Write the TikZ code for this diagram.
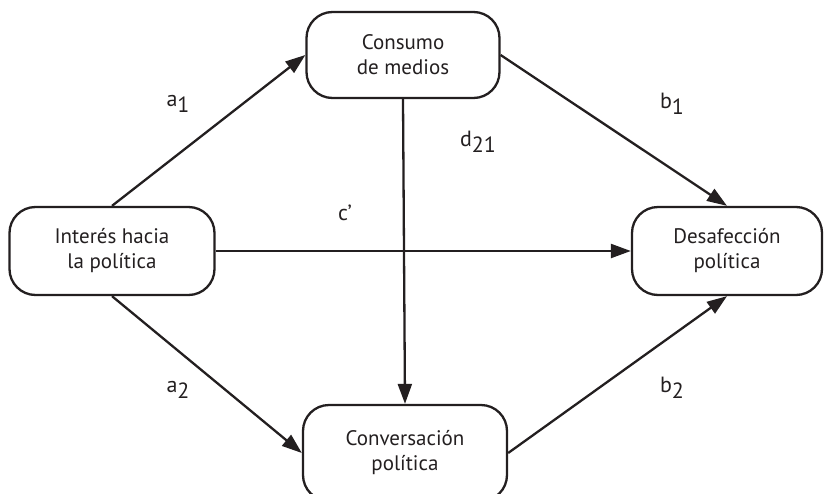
\documentclass[tikz,border=0pt]{standalone}
\usepackage{fontspec}
\setmainfont{PT Sans}
\usetikzlibrary{arrows.meta, positioning}
\definecolor{lineGray}{HTML}{231F20}
\newcommand{\idx}[1]{\raisebox{-0.55ex}{#1}}

\begin{document}
\begin{tikzpicture}[x=1pt, y=-1pt,
  box/.style={draw=lineGray, line width=2.3pt, rounded corners=26pt, align=center,
    inner sep=0pt, font=\fontsize{21}{25}\selectfont, text=lineGray},
  path/.style={draw=lineGray, line width=2.3pt, -{Triangle[length=20pt, width=14pt]}},
  lbl/.style={font=\fontsize{22}{24}\selectfont, text=lineGray}]
\useasboundingbox (0,0) rectangle (825,493);

% Variables
\node[box, minimum width=193pt, minimum height=86pt] (medios) at (403,55) {Consumo\\de medios};
\node[box, minimum width=205pt, minimum height=88pt] (interes) at (112,251) {Interés hacia\\la política};
\node[box, minimum width=190pt, minimum height=88pt] (desaf) at (727,251) {Desafección\\política};
\node[box, minimum width=204pt, minimum height=96pt] (conver) at (405,453) {Conversación\\política};

% Paths
\draw[path] (interes.north) -- (medios.west);
\draw[path] (medios.east) -- (desaf.north);
\draw[path] (interes.east) -- (desaf.west);
\draw[path] (medios.south) -- (conver.north);
\draw[path] (interes.south) -- (conver.west);
\draw[path] (conver.east) -- (desaf.south);

% Coefficients
\node[lbl] (a1) at (178,104) {a\idx{1}};
\node[lbl] (b1) at (672,104) {b\idx{1}};
\node[lbl] (d21) at (478,142) {d\idx{21}};
\node[lbl] (cp) at (345,213) {c’};
\node[lbl] (a2) at (178,390) {a\idx{2}};
\node[lbl] (b2) at (672,388) {b\idx{2}};
\end{tikzpicture}
\end{document}
